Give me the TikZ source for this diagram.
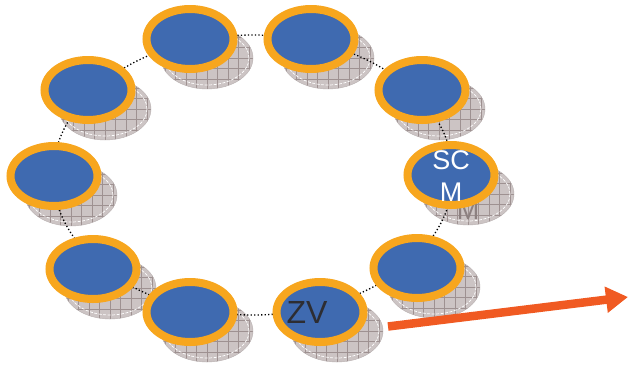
\documentclass[tikz,border=0pt]{standalone}
\usepackage{fontspec}
\setmainfont{Liberation Sans}
\usetikzlibrary{shapes.geometric,arrows.meta}
\definecolor{ringorange}{RGB}{247,166,30}
\definecolor{discblue}{RGB}{63,106,176}
\definecolor{shadefill}{RGB}{204,196,196}
\definecolor{gridcol}{RGB}{158,145,145}
\definecolor{mgrey}{RGB}{140,128,128}
\definecolor{arrowred}{RGB}{240,90,34}
\definecolor{zvtext}{RGB}{45,45,50}
\tikzset{
  shadowe/.style={ellipse, inner sep=0pt, minimum width=92bp, minimum height=62bp,
    fill=shadefill, draw=shadefill!90!black, line width=0.4bp,
    path picture={
      \draw[gridcol, line width=0.55bp, step=10.5bp]
        ([shift={(-60bp,-40bp)}]path picture bounding box.center) grid
        ([shift={(60bp,40bp)}]path picture bounding box.center);
      \draw[white, line width=0.7bp, dash pattern=on 3bp off 1.5bp]
        (path picture bounding box.center) ellipse [x radius=42bp, y radius=27bp];
    }},
  disc/.style={ellipse, inner sep=0pt, minimum width=87bp, minimum height=60bp,
    draw=ringorange, line width=8bp, fill=discblue},
  bigtext/.style={inner sep=0pt, align=center, font=\fontsize{27bp}{32bp}\selectfont},
  ringline/.style={ellipse, inner sep=0pt, draw=black, line width=1.3bp,
    dash pattern=on 1.3bp off 2.2bp},
  bigarrow/.style={arrowred, line width=8.5bp,
    -{Triangle[length=22bp,width=25bp]}}
}
\begin{document}
\begin{tikzpicture}[x=1bp,y=-1bp]
\useasboundingbox (0,0) rectangle (629,365);
% shadows
\node[shadowe] (s1) at (207,58) {};
\node[shadowe] (s2) at (328,58) {};
\node[shadowe] (s3) at (439,109) {};
\node[shadowe] (s4) at (468,194) {};
\node[bigtext, text=mgrey] (s4text) at (s4.center) {SC\\M};
\node[shadowe] (s5) at (434,287) {};
\node[shadowe] (s6) at (337,331) {};
\node[shadowe] (s7) at (207,331) {};
\node[shadowe] (s8) at (110,288) {};
\node[shadowe] (s9) at (71,195) {};
\node[shadowe] (s10) at (105,109) {};
% dotted ring
\node[ringline, minimum width=400bp, minimum height=280bp] (ring) at (253,175) {};
% discs
\node[disc] (d1) at (190,39) {};
\node[disc] (d2) at (311,39) {};
\node[disc] (d3) at (422,90) {};
\node[disc] (d4) at (451,175) {};
\node[disc] (d5) at (417,268) {};
\node[disc] (d6) at (320,312) {};
\node[disc] (d7) at (190,312) {};
\node[disc] (d8) at (93,269) {};
\node[disc] (d9) at (54,176) {};
\node[disc] (d10) at (88,90) {};
\node[bigtext, text=white] (scm) at (451,176) {SC\\M};
\node[text=zvtext, font=\fontsize{32bp}{36bp}\selectfont, inner sep=0pt] (zv) at (307,312) {ZV};
% arrow
\coordinate (a0) at (388,326.5);
\coordinate (a1) at (628,297);
\draw[bigarrow] (a0) -- (a1);
\end{tikzpicture}
\end{document}
